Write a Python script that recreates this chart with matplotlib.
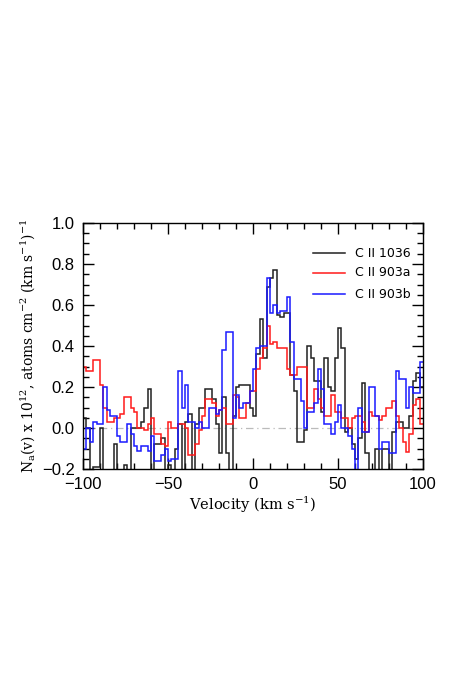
import numpy as np
import matplotlib
matplotlib.use("Agg")
import matplotlib.pyplot as plt
from matplotlib.ticker import MultipleLocator

# velocity bin edges (km/s)
edges = np.arange(-100, 102, 2)

c2_1036 = [0.05, 0.0, -0.22, -0.19, -0.19, 0.0, -0.22, -0.22, -0.22, -0.08,
           -0.22, -0.22, -0.18, -0.22, 0.0, 0.0, 0.0, 0.03, 0.1, 0.19,
           -0.22, -0.08, -0.08, -0.05, -0.22, -0.18, -0.22, -0.1, 0.02, -0.22,
           0.03, 0.07, -0.22, 0.02, 0.1, 0.1, 0.19, 0.19, 0.14, 0.02,
           -0.12, 0.15, -0.12, -0.22, 0.06, 0.2, 0.21, 0.21, 0.21, 0.1,
           0.06, 0.36, 0.53, 0.34, 0.69, 0.73, 0.77, 0.55, 0.54, 0.56,
           0.56, 0.26, 0.18, -0.07, -0.07, -0.01, 0.4, 0.34, 0.23, 0.23,
           0.08, 0.34, 0.2, 0.18, 0.34, 0.49, 0.39, -0.02, 0.0, -0.08,
           -0.15, -0.05, 0.22, -0.12, -0.22, -0.22, -0.1, -0.22, -0.1, -0.1,
           -0.22, -0.02, 0.03, 0.03, 0.0, 0.0, 0.06, 0.23, 0.27, 0.2]

c2_903a = [0.3, 0.28, 0.28, 0.33, 0.33, 0.21, 0.1, 0.03, 0.03, 0.05,
           0.05, 0.07, 0.15, 0.15, 0.1, 0.08, 0.0, 0.0, -0.01, 0.02,
           0.05, -0.03, -0.03, -0.08, -0.09, 0.03, 0.0, 0.0, 0.02, 0.02,
           0.0, -0.13, -0.13, -0.08, -0.01, 0.06, 0.14, 0.14, 0.12, 0.06,
           0.09, 0.1, 0.02, 0.02, 0.16, 0.15, 0.05, 0.05, 0.12, 0.18,
           0.18, 0.29, 0.34, 0.39, 0.5, 0.41, 0.42, 0.39, 0.39, 0.39,
           0.29, 0.26, 0.26, 0.3, 0.3, 0.3, 0.1, 0.1, 0.19, 0.14,
           0.1, 0.06, 0.06, 0.16, 0.08, 0.08, 0.05, 0.05, 0.0, 0.05,
           0.06, 0.06, 0.03, -0.02, 0.08, 0.06, 0.06, 0.04, 0.06, 0.1,
           0.1, 0.13, 0.06, 0.0, -0.07, -0.115, -0.03, 0.11, 0.14, 0.02]

c2_903b = [-0.1, 0.0, -0.07, 0.03, 0.02, 0.02, 0.2, 0.09, 0.06, 0.06,
           -0.04, -0.07, -0.07, 0.02, -0.03, -0.09, -0.11, -0.09, -0.09, -0.11,
           -0.04, -0.16, -0.16, -0.13, -0.1, -0.16, -0.15, -0.15, 0.28, 0.1,
           0.21, 0.03, 0.03, 0.0, 0.03, 0.0, 0.0, 0.1, 0.1, 0.07,
           0.09, 0.38, 0.47, 0.47, 0.05, 0.16, 0.1, 0.12, 0.12, 0.18,
           0.29, 0.39, 0.4, 0.4, 0.73, 0.56, 0.6, 0.56, 0.57, 0.57,
           0.64, 0.42, 0.24, 0.24, 0.13, 0.0, 0.08, 0.08, 0.12, 0.29,
           0.19, 0.02, 0.02, -0.03, 0.03, 0.11, 0.0, 0.0, -0.04, -0.1,
           -0.22, 0.1, -0.02, -0.02, 0.2, 0.2, 0.06, -0.1, -0.07, -0.07,
           -0.12, -0.12, 0.28, 0.24, 0.24, 0.1, 0.2, 0.17, 0.17, 0.32]

labels = ["C II 1036", "C II 903a", "C II 903b"]
colors = ["#202020", "#ff1a1a", "#1a1aff"]
series = [c2_1036, c2_903a, c2_903b]

plt.rcParams['mathtext.fontset'] = 'dejavuserif'
plt.rcParams['mathtext.default'] = 'regular'

fig = plt.figure(figsize=(4.56, 6.92), dpi=100)
ax = fig.add_axes([83/456, 1 - 469/692, 340/456, 246/692])

ax.plot([-100, 100], [0, 0], color="#bbbbbb", lw=0.9, ls=(0, (6, 3, 1, 3)), zorder=1)
for vals, col in zip(series, colors):
    ax.stairs(vals, edges, baseline=None, color=col, lw=1.1, zorder=2)

ax.set_xlim(-100, 100)
ax.set_ylim(-0.2, 1.0)
ax.xaxis.set_major_locator(MultipleLocator(50))
ax.xaxis.set_minor_locator(MultipleLocator(10))
ax.yaxis.set_major_locator(MultipleLocator(0.2))
ax.yaxis.set_minor_locator(MultipleLocator(0.05))
ax.tick_params(which='both', direction='in', top=True, right=True, width=1.0)
ax.tick_params(which='major', length=8, labelsize=12, pad=6)
ax.tick_params(which='minor', length=4)
ax.yaxis.set_major_formatter(matplotlib.ticker.FuncFormatter(lambda v, p: f"{v:.1f}".replace('-', '\u2212')))
ax.xaxis.set_major_formatter(matplotlib.ticker.FuncFormatter(lambda v, p: f"{v:.0f}".replace('-', '\u2212')))
for lab in ax.get_xticklabels() + ax.get_yticklabels():
    lab.set_fontfamily('Liberation Sans')
for s in ax.spines.values():
    s.set_linewidth(1.0)

ax.set_xlabel("Velocity (km s$^{-1}$)", family='DejaVu Serif', fontsize=10.5, labelpad=2)
ax.set_ylabel("N$_a$(v) x 10$^{12}$, atoms cm$^{-2}$ (km s$^{-1}$)$^{-1}$",
              family='DejaVu Serif', fontsize=10, labelpad=3)

# legend
ly = [0.878, 0.797, 0.711]
for lab, col, y in zip(labels, colors, ly):
    ax.plot([0.676, 0.77], [y, y], color=col, lw=1.1, transform=ax.transAxes)
    ax.text(0.80, y, lab, transform=ax.transAxes, va='center', ha='left',
            fontsize=9, family='DejaVu Sans')

fig.savefig("out.png", dpi=100)
